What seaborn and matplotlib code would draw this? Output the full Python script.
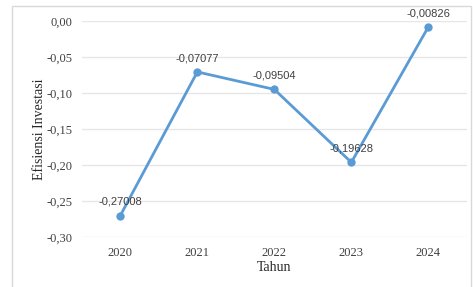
import matplotlib
matplotlib.use("Agg")
import matplotlib.pyplot as plt
import seaborn as sns
import pandas as pd
from matplotlib.patches import Rectangle

# Data
tahun = ["2020", "2021", "2022", "2023", "2024"]
efisiensi = [-0.27008, -0.07077, -0.09504, -0.19628, -0.00826]
label_nilai = ["-0,27008", "-0,07077", "-0,09504", "-0,19628", "-0,00826"]
y_ticks = [0.00, -0.05, -0.10, -0.15, -0.20, -0.25, -0.30]
y_tick_labels = ["0,00", "-0,05", "-0,10", "-0,15", "-0,20", "-0,25", "-0,30"]

df = pd.DataFrame({"Tahun": tahun, "Efisiensi": efisiensi})

sns.set_style("white")
plt.rcParams['font.family'] = ['Liberation Serif', 'DejaVu Serif']

fig = plt.figure(figsize=(4.73, 2.87), dpi=100)
ax = fig.add_axes([0.173, 0.174, 0.814, 0.753])

# outer frame of the chart area
fig.patches.append(Rectangle((12 / 473, -0.05), 459 / 473, 1 - 6 / 287 + 0.05,
                             transform=fig.transFigure, fill=False,
                             edgecolor='#d9d9d9', linewidth=1.0))

sns.lineplot(data=df, x="Tahun", y="Efisiensi", ax=ax, color='#5b9bd5',
             linewidth=2.0, marker='o', markersize=6, markeredgewidth=0)

for i, (v, lab) in enumerate(zip(efisiensi, label_nilai)):
    ax.annotate(lab, (i, v), xytext=(0, 10), textcoords='offset points',
                ha='center', va='center', fontsize=8, color='#404040',
                family=['Liberation Sans', 'DejaVu Sans'])

ax.set_xlim(-0.5, 4.5)
ax.set_ylim(-0.30, 0.00)
ax.set_yticks(y_ticks)
ax.set_yticklabels(y_tick_labels)
ax.tick_params(axis='both', length=0, labelsize=9, labelcolor='#404040', pad=7)
ax.yaxis.grid(True, color='#e6e6e6', linewidth=1.0)
ax.set_axisbelow(True)
for s in ax.spines.values():
    s.set_visible(False)

ax.set_xlabel("Tahun", fontsize=10, color='#262626')
ax.set_ylabel("Efisiensi Investasi", fontsize=10, color='#262626')
ax.xaxis.set_label_coords(0.5, -0.11)
ax.yaxis.set_label_coords(-0.092, 0.5)

fig.savefig("out.png", dpi=100)
